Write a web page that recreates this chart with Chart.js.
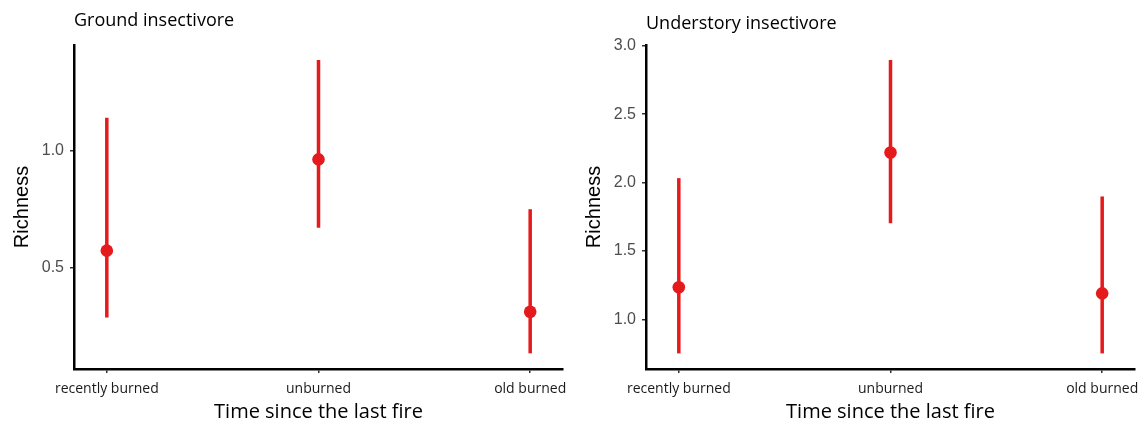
<!DOCTYPE html>
<html>
<head>
<meta charset="utf-8">
<script src="https://cdn.jsdelivr.net/npm/chart.js@4"></script>
<style>
  body { margin: 0; background: #fff; }
  .panel { position: absolute; top: 0; width: 572px; height: 428px; }
</style>
</head>
<body>
<div class="panel" style="left:0"><canvas id="ground" width="572" height="428"></canvas></div>
<div class="panel" style="left:572px"><canvas id="understory" width="572" height="428"></canvas></div>
<script>
const categories = ['recently burned', 'unburned', 'old burned'];

// Ground insectivore: mean and interval ends
const groundMean = [0.574, 0.964, 0.313];
const groundLower = [0.288, 0.672, 0.135];
const groundUpper = [1.142, 1.389, 0.751];
const groundTicks = [0.5, 1.0];
const groundRange = [0.068, 1.453];

// Understory insectivore
const understoryMean = [1.234, 2.219, 1.19];
const understoryLower = [0.751, 1.703, 0.751];
const understoryUpper = [2.032, 2.895, 1.898];
const understoryTicks = [1.0, 1.5, 2.0, 2.5, 3.0];
const understoryRange = [0.637, 3.005];

const red = '#e41a1c';
const calibriLike = '"Open Sans", sans-serif';
const arialLike = '"Liberation Sans", Arial, sans-serif';

function makePanel(id, title, means, lowers, uppers, yRange, yTicks, titlePad) {
    const datasets = [];
    // one vertical line per category for the interval
    for (let i = 0; i < categories.length; i++) {
        datasets.push({
            type: 'line',
            data: [{x: i + 1, y: lowers[i]}, {x: i + 1, y: uppers[i]}],
            borderColor: red,
            borderWidth: 3.5,
            pointRadius: 0,
            fill: false
        });
    }
    datasets.push({
        type: 'scatter',
        data: means.map((m, i) => ({x: i + 1, y: m})),
        backgroundColor: red,
        borderColor: red,
        pointRadius: 6.3,
        borderWidth: 0
    });

    return new Chart(document.getElementById(id), {
        type: 'scatter',
        data: {datasets: datasets},
        options: {
            responsive: false,
            animation: false,
            layout: {padding: {right: 9}},
            plugins: {
                legend: {display: false},
                tooltip: {enabled: false},
                title: {
                    display: true,
                    text: title,
                    align: 'start',
                    fullSize: false,
                    color: '#000',
                    font: {family: calibriLike, size: 18, weight: 'normal'},
                    padding: titlePad
                }
            },
            scales: {
                x: {
                    type: 'linear',
                    min: 0.845,
                    max: 3.155,
                    afterBuildTicks: axis => { axis.ticks = [1, 2, 3].map(v => ({value: v})); },
                    afterFit: s => {
                        s.height = 59;
                        // labels may hang past the axis ends, don't shrink the plot for them
                        s.paddingLeft = 0;
                        s.paddingRight = 0;
                    },
                    ticks: {
                        callback: v => categories[v - 1],
                        color: '#1a1a1a',
                        font: {family: calibriLike, size: 14},
                        maxRotation: 0,
                        padding: 8
                    },
                    grid: {display: true, drawOnChartArea: false, drawTicks: true, tickLength: 4, color: '#333', lineWidth: 1.5},
                    border: {display: true, color: '#000', width: 2.5},
                    title: {
                        display: true,
                        text: 'Time since the last fire',
                        color: '#000',
                        font: {family: calibriLike, size: 20},
                        padding: {top: 0, bottom: 4}
                    }
                },
                y: {
                    min: yRange[0],
                    max: yRange[1],
                    afterBuildTicks: axis => { axis.ticks = yTicks.map(v => ({value: v})); },
                    afterFit: s => { s.width = 74; },
                    ticks: {
                        callback: v => v.toFixed(1),
                        color: '#4d4d4d',
                        font: {family: arialLike, size: 16},
                        padding: 6
                    },
                    grid: {display: true, drawOnChartArea: false, drawTicks: true, tickLength: 4, color: '#333', lineWidth: 1.5},
                    border: {display: true, color: '#000', width: 2.5},
                    title: {
                        display: true,
                        text: 'Richness',
                        color: '#000',
                        font: {family: arialLike, size: 20},
                        padding: {top: 10, bottom: 0}
                    }
                }
            }
        }
    });
}

makePanel('ground', 'Ground insectivore', groundMean, groundLower, groundUpper,
    groundRange, groundTicks, {top: 10, bottom: 13.4});
makePanel('understory', 'Understory insectivore', understoryMean, understoryLower, understoryUpper,
    understoryRange, understoryTicks, {top: 13, bottom: 10.4});
</script>
</body>
</html>
